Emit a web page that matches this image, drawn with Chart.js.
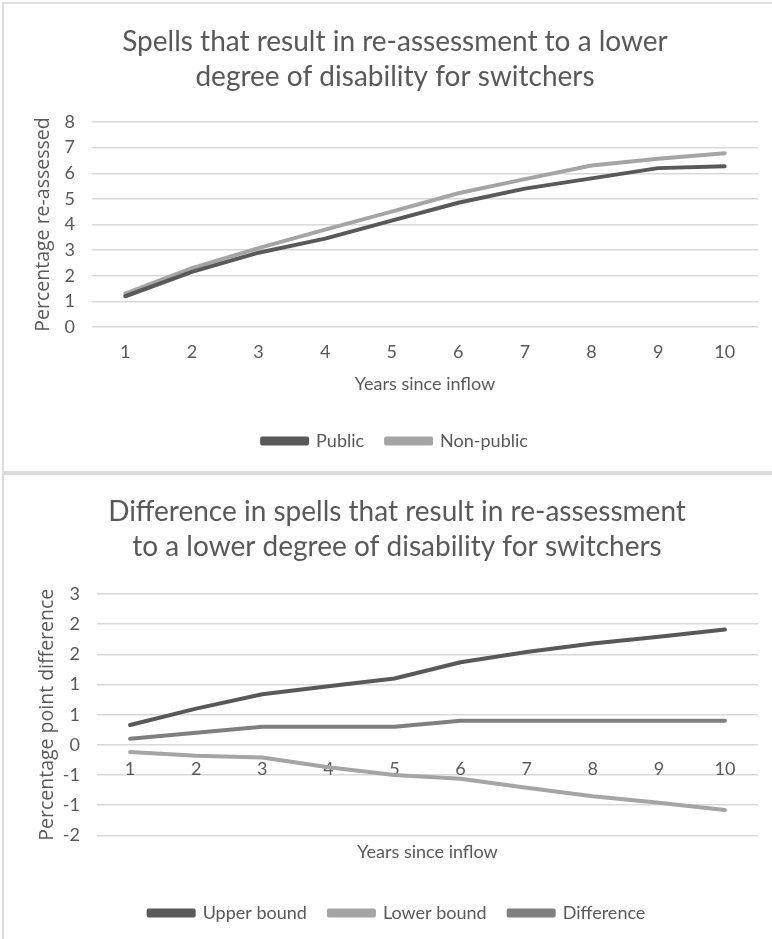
<!DOCTYPE html>
<html>
<head>
<meta charset="utf-8">
<script src="https://cdn.jsdelivr.net/npm/chart.js@4"></script>
<style>
  html, body { margin: 0; padding: 0; background: #fff; overflow: hidden; }
  body { width: 772px; height: 939px; position: relative; }
  .box { position: absolute; border: 2px solid #dcdcdc; box-sizing: border-box; }
  #boxTop { left: 2px; top: 2px; width: 800px; height: 471px; }
  #boxBottom { left: 2px; top: 473px; width: 800px; height: 500px; }
  canvas { position: absolute; left: 0; }
  #chartTop { top: 0; }
  #chartBottom { top: 474px; }
</style>
</head>
<body>
<div class="box" id="boxTop"></div>
<div class="box" id="boxBottom"></div>
<canvas id="chartTop" width="772" height="472"></canvas>
<canvas id="chartBottom" width="772" height="465"></canvas>
<script>
const years = ['1', '2', '3', '4', '5', '6', '7', '8', '9', '10'];

const publicShare = [1.2, 2.15, 2.9, 3.45, 4.15, 4.85, 5.4, 5.8, 6.2, 6.27];
const nonPublicShare = [1.3, 2.3, 3.08, 3.8, 4.5, 5.22, 5.77, 6.3, 6.57, 6.78];

const upperBound = [0.33, 0.6, 0.84, 0.97, 1.1, 1.37, 1.54, 1.68, 1.79, 1.91];
const lowerBound = [-0.12, -0.18, -0.21, -0.37, -0.5, -0.56, -0.71, -0.85, -0.96, -1.08];
const difference = [0.1, 0.2, 0.3, 0.3, 0.3, 0.4, 0.4, 0.4, 0.4, 0.4];

// y tick labels as printed in the reference (bottom to top, 0.5 steps rounded to whole numbers)
const diffTickLabels = ['-2', '-1', '-1', '0', '1', '1', '2', '2', '3'];

const TEXT = '#595959';
const GRID = '#d9d9d9';
const DARK = '#595959';
const LIGHT = '#a5a5a5';
const MID = '#7f7f7f';
const NARROW = 'Lato, sans-serif';
const WIDE = '"Open Sans", sans-serif';

Chart.defaults.color = TEXT;
Chart.defaults.font.family = NARROW;

function lineSet(label, data, color) {
  return {
    label,
    data,
    borderColor: color,
    backgroundColor: color,
    borderWidth: 4,
    borderCapStyle: 'round',
    borderJoinStyle: 'round',
    pointRadius: 0,
    tension: 0,
  };
}

const legendOpts = {
  position: 'bottom',
  labels: { boxWidth: 45, boxHeight: 5, padding: 22, font: { size: 18, family: NARROW }, color: TEXT },
};

const titleFont = { size: 28, weight: 'normal', family: NARROW, lineHeight: 1.25 };

new Chart(document.getElementById('chartTop').getContext('2d'), {
  type: 'line',
  data: {
    labels: years,
    datasets: [
      lineSet('Public', publicShare, DARK),
      lineSet('Non-public', nonPublicShare, LIGHT),
    ],
  },
  options: {
    responsive: false,
    animation: false,
    layout: { padding: { left: 32, right: 14, top: 0, bottom: 12 } },
    scales: {
      x: {
        offset: true,
        afterFit: (s) => { s.height = 83; },
        grid: { display: false, drawTicks: false },
        border: { display: false },
        ticks: { padding: 14, font: { size: 18 } },
        title: { display: true, text: 'Years since inflow', font: { size: 18 }, padding: { top: 0, bottom: 15 } },
      },
      y: {
        min: 0,
        max: 8,
        afterFit: (s) => { s.width = 60; },
        grid: { color: GRID, lineWidth: 1.5, drawTicks: false },
        border: { display: false },
        ticks: { stepSize: 1, padding: 17, font: { size: 18 } },
        title: { display: true, text: 'Percentage re-assessed', font: { size: 19.5, family: WIDE }, padding: 0 },
      },
    },
    plugins: {
      title: {
        display: true,
        text: ['Spells that result in re-assessment to a lower', 'degree of disability for switchers'],
        font: titleFont,
        color: TEXT,
        padding: { top: 24, bottom: 28 },
      },
      legend: legendOpts,
      tooltip: { enabled: false },
    },
  },
});

new Chart(document.getElementById('chartBottom').getContext('2d'), {
  type: 'line',
  data: {
    labels: years,
    datasets: [
      lineSet('Upper bound', upperBound, DARK),
      lineSet('Lower bound', lowerBound, LIGHT),
      lineSet('Difference', difference, MID),
    ],
  },
  options: {
    responsive: false,
    animation: false,
    layout: { padding: { left: 36, right: 14, top: 0, bottom: 7 } },
    scales: {
      x: {
        offset: true,
        position: { y: 0 },
        grid: { display: false, drawTicks: false },
        border: { display: false },
        ticks: { padding: 14, font: { size: 18 } },
      },
      xTitle: {
        type: 'category',
        position: 'bottom',
        grid: { display: false, drawTicks: false },
        border: { display: false },
        ticks: { display: false },
        title: { display: true, text: 'Years since inflow', font: { size: 18 }, padding: { top: 6, bottom: 19 } },
      },
      y: {
        min: -1.5,
        max: 2.5,
        afterFit: (s) => { s.width = 61; },
        grid: { color: GRID, lineWidth: 1.5, drawTicks: false },
        border: { display: false },
        ticks: {
          stepSize: 0.5,
          padding: 17,
          font: { size: 18 },
          callback: (value, index) => diffTickLabels[index],
        },
        title: { display: true, text: 'Percentage point difference', font: { size: 19.5, family: WIDE }, padding: 0 },
      },
    },
    plugins: {
      title: {
        display: true,
        text: ['Difference in spells that result in re-assessment', 'to a lower degree of disability for switchers'],
        font: titleFont,
        color: TEXT,
        padding: { top: 20, bottom: 30 },
      },
      legend: legendOpts,
      tooltip: { enabled: false },
    },
  },
});
</script>
</body>
</html>
